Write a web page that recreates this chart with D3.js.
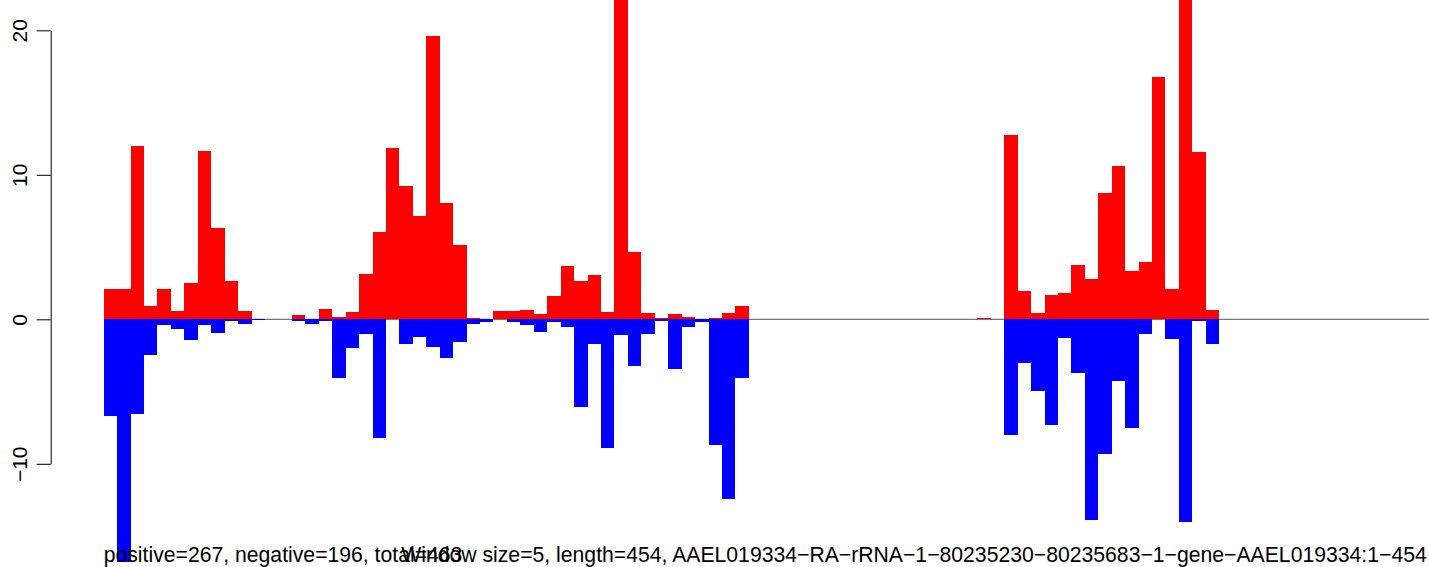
<!DOCTYPE html>
<html>
<head>
<meta charset="utf-8">
<script src="https://cdn.jsdelivr.net/npm/d3@7"></script>
<style>
  html, body { margin: 0; padding: 0; background: #fff; }
  svg { display: block; }
  text { font-family: "Liberation Sans", Arial, Helvetica, sans-serif; fill: #000; }
</style>
</head>
<body>
<svg id="chart" width="1429" height="567"></svg>
<script>
// ---- data (window size 5, 91 windows over length 454) ----
const positive = [
  2.10, 2.10, 12.0, 0.92, 2.10, 0.57, 2.51, 11.65, 6.32, 2.65,
  0.57, 0, 0, 0, 0.30, 0, 0.71, 0.16, 0.50, 3.13,
  6.04, 11.85, 9.22, 7.15, 19.6, 8.05, 5.14, 0.09, 0, 0.57,
  0.57, 0.64, 0.37, 1.61, 3.69, 2.65, 3.07, 0.50, 25.0, 4.66,
  0.44, 0.09, 0.37, 0.16, 0, 0.09, 0.44, 0.92, 0.03, 0,
  0, 0, 0, 0, 0, 0, 0, 0, 0, 0,
  0, 0, 0, 0, 0, 0.09, 0.03, 12.75, 1.96, 0.44,
  1.68, 1.82, 3.76, 2.79, 8.74, 10.61, 3.34, 3.97, 16.77, 2.10,
  24.0, 11.58, 0.64, 0, 0, 0, 0, 0, 0, 0, 0
];
const negative = [
  -6.67, -16.8, -6.53, -2.45, -0.37, -0.65, -1.41, -0.37, -0.93, -0.12,
  -0.30, -0.05, 0, 0, -0.10, -0.30, -0.10, -4.04, -1.97, -1.00,
  -8.19, 0, -1.69, -1.20, -1.90, -2.66, -1.55, -0.30, -0.17, 0,
  -0.17, -0.37, -0.86, -0.17, -0.51, -6.05, -1.69, -8.89, -1.07, -3.21,
  -1.00, -0.10, -3.42, -0.51, -0.17, -8.68, -12.41, -4.04, 0, 0,
  0, 0, 0, 0, 0, 0, 0, 0, 0, 0,
  0, 0, 0, 0, 0, 0, 0, -7.99, -3.00, -4.94,
  -7.29, -1.29, -3.70, -13.89, -9.30, -4.25, -7.50, -1.00, 0, -1.36,
  -14.03, -0.12, -1.71, 0, 0, 0, 0, 0, 0, 0, 0
];
const yTickValues = [-10, 0, 10, 20];
const yTickLabels = ["\u221210", "0", "10", "20"];
const leftText = "positive=267, negative=196, total=463";
const mainText = "Window size=5, length=454, AAEL019334\u2212RA\u2212rRNA\u22121\u221280235230\u221280235683\u22121\u2212gene\u2212AAEL019334:1\u2212454";

// ---- layout ----
const W = 1429, H = 567;
const svg = d3.select("#chart");
const nBins = positive.length;

const x = d3.scaleLinear().domain([0, nBins]).range([103.7, 103.7 + nBins * 13.44]);
const y = d3.scaleLinear().domain([-10, 20]).range([463.8, 30.3]);

// zero line
svg.append("line")
  .attr("x1", x(0)).attr("x2", W)
  .attr("y1", y(0)).attr("y2", y(0))
  .attr("stroke", "#555").attr("stroke-width", 1);

const bars = svg.append("g").attr("shape-rendering", "crispEdges");
bars.selectAll("rect.pos").data(positive).join("rect")
  .attr("class", "pos")
  .attr("x", (d, i) => x(i))
  .attr("width", (d, i) => x(i + 1) - x(i))
  .attr("y", d => y(Math.max(0, d)))
  .attr("height", d => Math.abs(y(d) - y(0)))
  .attr("fill", "#ff0000");
bars.selectAll("rect.neg").data(negative).join("rect")
  .attr("class", "neg")
  .attr("x", (d, i) => x(i))
  .attr("width", (d, i) => x(i + 1) - x(i))
  .attr("y", y(0))
  .attr("height", d => Math.abs(y(d) - y(0)))
  .attr("fill", "#0000ff");

// y axis
const axis = d3.axisLeft(y)
  .tickValues(yTickValues)
  .tickFormat((d, i) => yTickLabels[i])
  .tickSize(14)
  .tickSizeOuter(0);
const gAxis = svg.append("g")
  .attr("transform", "translate(50.7,0)")
  .call(axis);
gAxis.select(".domain").attr("stroke", "#000").attr("stroke-width", 1);
gAxis.selectAll(".tick line").attr("stroke", "#000").attr("stroke-width", 1);
gAxis.selectAll(".tick text")
  .attr("transform", "rotate(-90)")
  .attr("x", 0)
  .attr("y", -23.5)
  .attr("dy", 0)
  .attr("text-anchor", "middle")
  .style("font-family", "'Liberation Sans', Arial, sans-serif")
  .style("font-size", "21px")
  .attr("fill", "#000");

// bottom texts
svg.append("text")
  .attr("x", x(0)).attr("y", 561.7)
  .attr("text-anchor", "start")
  .style("font-size", "21.2px")
  .text(leftText);
svg.append("text")
  .attr("x", 914).attr("y", 561.7)
  .attr("text-anchor", "middle")
  .style("font-size", "21.2px")
  .text(mainText);
</script>
</body>
</html>
